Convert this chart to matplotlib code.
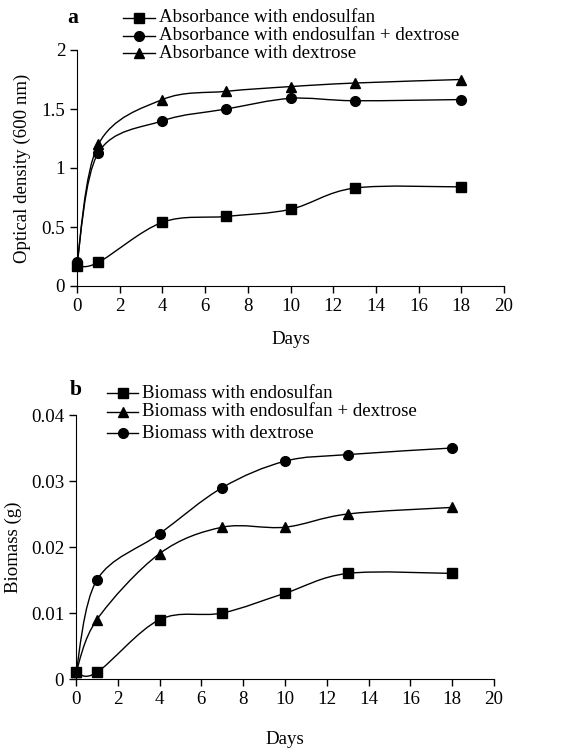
import numpy as np
import matplotlib
matplotlib.use("Agg")
import matplotlib.pyplot as plt
from matplotlib.path import Path
from matplotlib.patches import PathPatch
from matplotlib.lines import Line2D

plt.rcParams['font.family'] = ['Liberation Serif', 'DejaVu Serif']

days = [0, 1, 4, 7, 10, 13, 18]

# panel a: optical density (600 nm)
od_endosulfan = [0.17, 0.20, 0.54, 0.59, 0.65, 0.83, 0.84]
od_endo_dextrose = [0.20, 1.13, 1.40, 1.50, 1.59, 1.57, 1.58]
od_dextrose = [0.19, 1.20, 1.58, 1.65, 1.69, 1.72, 1.75]
labels_a = ["Absorbance with endosulfan",
            "Absorbance with endosulfan + dextrose",
            "Absorbance with dextrose"]

# panel b: biomass (g)
bm_endosulfan = [0.001, 0.001, 0.009, 0.010, 0.013, 0.016, 0.016]
bm_endo_dextrose = [0.001, 0.009, 0.019, 0.023, 0.023, 0.025, 0.026]
bm_dextrose = [0.001, 0.015, 0.022, 0.029, 0.033, 0.034, 0.035]
labels_b = ["Biomass with endosulfan",
            "Biomass with endosulfan + dextrose",
            "Biomass with dextrose"]

W, H = 567, 750
FS = 13.6
MS = 7


def smooth_path(x, y):
    # Excel-like smoothed line: Catmull-Rom segments as cubic Beziers
    x = np.asarray(x, float)
    y = np.asarray(y, float)
    pts = np.column_stack([x, y])
    n = len(pts)
    verts = [pts[0]]
    codes = [Path.MOVETO]
    for i in range(n - 1):
        p0 = pts[i - 1] if i > 0 else pts[i]
        p1 = pts[i]
        p2 = pts[i + 1]
        p3 = pts[i + 2] if i + 2 < n else pts[i + 1]
        c1 = p1 + (p2 - p0) / 6.0
        c2 = p2 - (p3 - p1) / 6.0
        verts += [c1, c2, p2]
        codes += [Path.CURVE4] * 3
    return Path(verts, codes)


def draw_series(ax, x, y, marker):
    ax.add_patch(PathPatch(smooth_path(x, y), facecolor="none",
                           edgecolor="black", lw=1.0, clip_on=False))
    ax.plot(x, y, linestyle="none", marker=marker, color="black",
            markersize=MS, clip_on=False, zorder=3)


def fig_legend(fig, x0, x1, xt, ys, markers, labels):
    for yy, m, lab in zip(ys, markers, labels):
        fy = 1 - yy / H
        fig.add_artist(Line2D([x0 / W, x1 / W], [fy, fy], color="black",
                              lw=1.0, transform=fig.transFigure))
        fig.add_artist(Line2D([(x0 + x1) / 2 / W], [fy], marker=m,
                              color="black", markersize=MS,
                              transform=fig.transFigure))
        fig.text(xt / W, fy, lab, fontsize=FS, va="center", ha="left")


def style_axes(ax):
    ax.spines["top"].set_visible(False)
    ax.spines["right"].set_visible(False)
    ax.tick_params(direction="out", length=5, width=1, labelsize=FS,
                   top=False, right=False)
    ax.set_xlim(0, 20)
    ax.set_xticks(np.arange(0, 21, 2))


fig = plt.figure(figsize=(W / 100, H / 100), dpi=100)

# ---- panel a
ax1 = fig.add_axes([77 / W, 1 - 286 / H, (504 - 77) / W, (286 - 50) / H])
style_axes(ax1)
ax1.set_ylim(0, 2)
ax1.set_yticks([0, 0.5, 1, 1.5, 2])
ax1.set_yticklabels(["0", "0.5", "1", "1.5", "2"])
draw_series(ax1, days, od_endosulfan, "s")
draw_series(ax1, days, od_endo_dextrose, "o")
draw_series(ax1, days, od_dextrose, "^")
ax1.set_ylabel("Optical density (600 nm)", fontsize=FS, va="center")
ax1.yaxis.set_label_coords((22 - 77) / 427, 0.5)
ax1.set_xlabel("Days", fontsize=FS, va="center")
ax1.xaxis.set_label_coords(0.5, (286 - 340) / 236)
fig.text(73 / W, 1 - 18 / H, "a", fontsize=FS + 2, fontweight="bold",
         va="center", ha="center")
fig_legend(fig, 123, 155, 159, [18, 35.5, 53], ["s", "o", "^"], labels_a)

# ---- panel b
ax2 = fig.add_axes([76 / W, 1 - 679 / H, (494 - 76) / W, (679 - 415) / H])
style_axes(ax2)
ax2.set_ylim(0, 0.04)
ax2.set_yticks([0, 0.01, 0.02, 0.03, 0.04])
ax2.set_yticklabels(["0", "0.01", "0.02", "0.03", "0.04"])
draw_series(ax2, days, bm_endosulfan, "s")
draw_series(ax2, days, bm_endo_dextrose, "^")
draw_series(ax2, days, bm_dextrose, "o")
ax2.set_ylabel("Biomass (g)", fontsize=FS, va="center")
ax2.yaxis.set_label_coords((13 - 76) / 418, 0.5)
ax2.set_xlabel("Days", fontsize=FS, va="center")
ax2.xaxis.set_label_coords(0.5, (679 - 739) / 264)
fig.text(76 / W, 1 - 390 / H, "b", fontsize=FS + 2, fontweight="bold",
         va="center", ha="center")
fig_legend(fig, 107, 138, 142, [393, 412, 433], ["s", "^", "o"], labels_b)

fig.savefig("out.png", dpi=100)
